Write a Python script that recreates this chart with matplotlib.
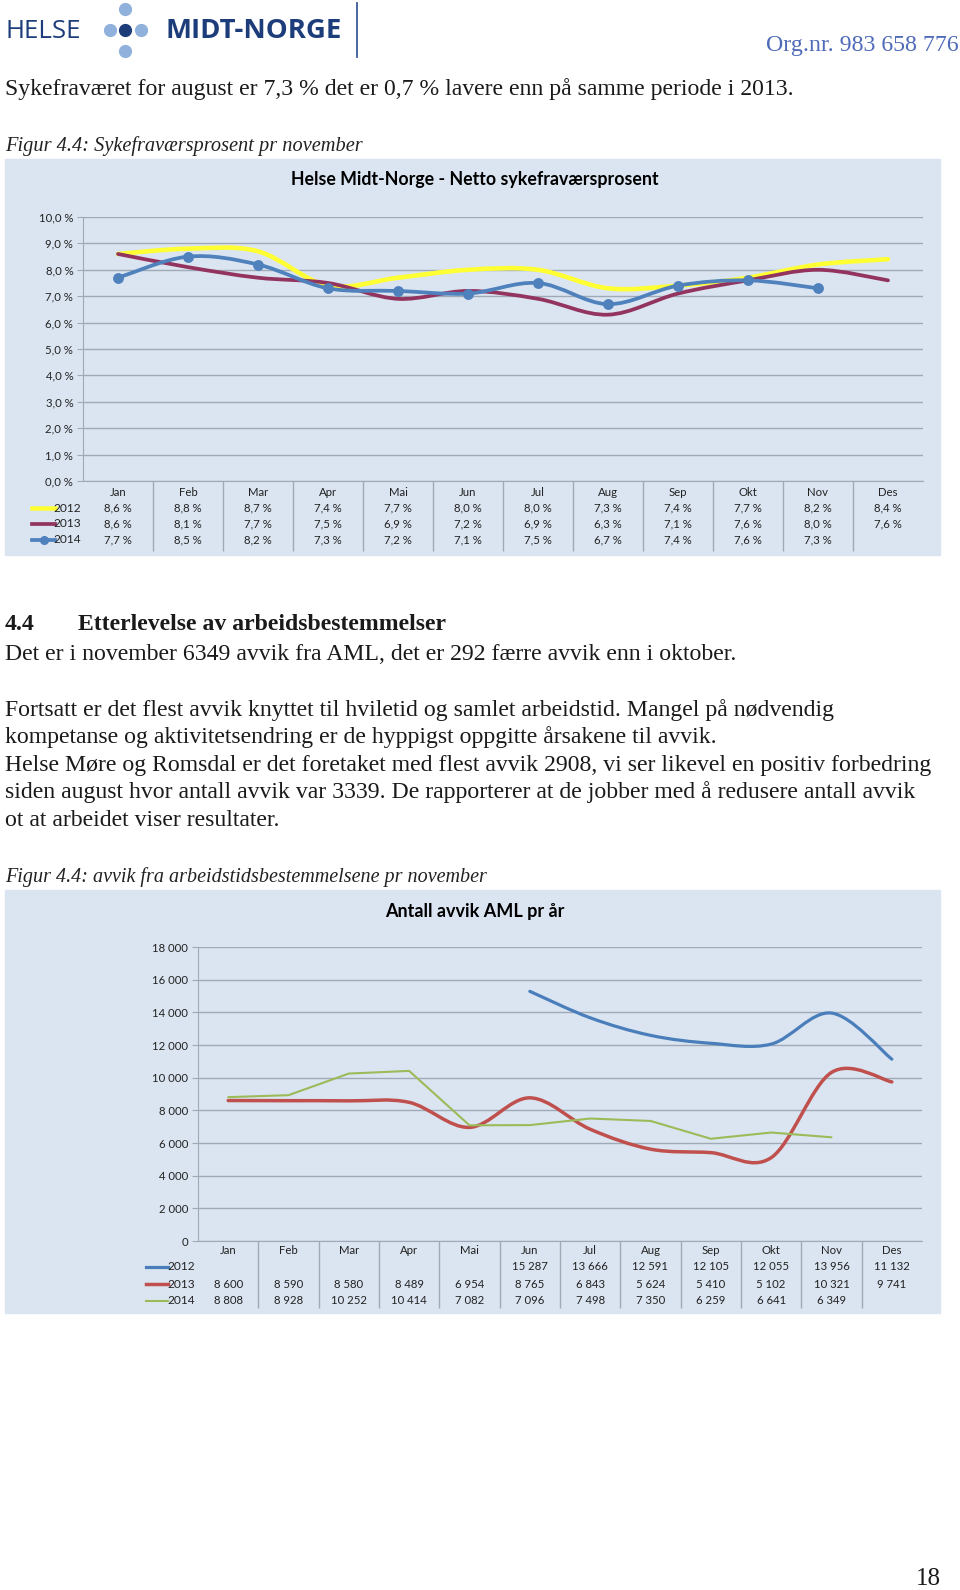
import numpy as np
import matplotlib
matplotlib.use("Agg")
import matplotlib.pyplot as plt
from matplotlib.path import Path
from matplotlib.patches import PathPatch, Rectangle
from matplotlib.lines import Line2D
from matplotlib.transforms import blended_transform_factory
from matplotlib.ticker import FuncFormatter, MultipleLocator

# ---- data ----
months = ["Jan", "Feb", "Mar", "Apr", "Mai", "Jun", "Jul", "Aug", "Sep", "Okt", "Nov", "Des"]
years = ["2012", "2013", "2014"]

syk_2012 = [8.6, 8.8, 8.7, 7.4, 7.7, 8.0, 8.0, 7.3, 7.4, 7.7, 8.2, 8.4]
syk_2013 = [8.6, 8.1, 7.7, 7.5, 6.9, 7.2, 6.9, 6.3, 7.1, 7.6, 8.0, 7.6]
syk_2014 = [7.7, 8.5, 8.2, 7.3, 7.2, 7.1, 7.5, 6.7, 7.4, 7.6, 7.3]

avvik_2012 = [None, None, None, None, None, 15287, 13666, 12591, 12105, 12055, 13956, 11132]
avvik_2013 = [8600, 8590, 8580, 8489, 6954, 8765, 6843, 5624, 5410, 5102, 10321, 9741]
avvik_2014 = [8808, 8928, 10252, 10414, 7082, 7096, 7498, 7350, 6259, 6641, 6349]

body_lines = [
    "Det er i november 6349 avvik fra AML, det er 292 færre avvik enn i oktober.",
    "",
    "Fortsatt er det flest avvik knyttet til hviletid og samlet arbeidstid. Mangel på nødvendig",
    "kompetanse og aktivitetsendring er de hyppigst oppgitte årsakene til avvik.",
    "Helse Møre og Romsdal er det foretaket med flest avvik 2908, vi ser likevel en positiv forbedring",
    "siden august hvor antall avvik var 3339. De rapporterer at de jobber med å redusere antall avvik",
    "ot at arbeidet viser resultater.",
]

W, H = 960, 1590
fig = plt.figure(figsize=(W / 100, H / 100), dpi=100)
renderer = fig.canvas.get_renderer()
SERIF = ["Liberation Serif", "DejaVu Serif"]
SANS = ["Lato", "DejaVu Sans"]
BG = "#dbe5f1"
GRID = "#a0a9b6"
SMALL = 8.2


def fx(x):
    return x / W


def fy(y):
    return 1 - y / H


def put(x, y, s, width=None, **kw):
    kw.setdefault("va", "center")
    t = fig.text(fx(x), fy(y), s, **kw)
    if width:
        bb = t.get_window_extent(renderer)
        t.set_fontsize(t.get_fontsize() * width / bb.width)
    return t


def smooth_path(xs, ys):
    pts = np.column_stack([xs, ys]).astype(float)
    n = len(pts)
    verts = [pts[0]]
    codes = [Path.MOVETO]
    for i in range(n - 1):
        p0 = pts[max(i - 1, 0)]
        p1 = pts[i]
        p2 = pts[i + 1]
        p3 = pts[min(i + 2, n - 1)]
        verts += [p1 + (p2 - p0) / 6, p2 - (p3 - p1) / 6, p2]
        codes += [Path.CURVE4] * 3
    return Path(verts, codes)


def series_xy(vals):
    xs = [i for i, v in enumerate(vals) if v is not None]
    ys = [v for v in vals if v is not None]
    return np.array(xs), np.array(ys)


def chart(box, plot, title, title_y, title_w, rows_y, table_bottom, key_x, label_x,
          series, ylim, ystep, yfmt, cellfmt):
    x0, y0, x1, y1 = box
    fig.patches.append(Rectangle((fx(x0), fy(y1)), (x1 - x0) / W, (y1 - y0) / H,
                                 transform=fig.transFigure, color=BG, zorder=-5))
    put((x0 + x1) / 2 + 2, title_y, title, width=title_w, ha="center",
        family=SANS, fontweight="bold", fontsize=12)
    px0, py0, px1, py1 = plot
    ax = fig.add_axes([fx(px0), fy(py1), (px1 - px0) / W, (py1 - py0) / H])
    ax.set_facecolor("none")
    ax.set_xlim(-0.5, 11.5)
    ax.set_ylim(*ylim)
    ax.yaxis.set_major_locator(MultipleLocator(ystep))
    ax.yaxis.set_major_formatter(FuncFormatter(yfmt))
    ax.grid(axis="y", color=GRID, lw=1)
    ax.set_axisbelow(True)
    ax.set_xticks([])
    for s in ["top", "right"]:
        ax.spines[s].set_visible(False)
    for s in ["left", "bottom"]:
        ax.spines[s].set_color(GRID)
    ax.tick_params(axis="y", length=4, color=GRID, pad=3, labelsize=SMALL, labelcolor="#222222")
    for lab in ax.get_yticklabels():
        lab.set_family(SANS)

    for vals, color, lw, smooth, marker in series:
        xs, ys = series_xy(vals)
        if smooth:
            ax.add_patch(PathPatch(smooth_path(xs, ys), fill=False, edgecolor=color, lw=lw,
                                   capstyle="round", joinstyle="round"))
        else:
            ax.plot(xs, ys, color=color, lw=lw, solid_capstyle="round")
        if marker:
            ax.plot(xs, ys, "o", color=color, ms=6.8)

    # data table under the axis
    tr = blended_transform_factory(ax.transData, fig.transFigure)
    ax.vlines(np.arange(0.5, 11.5, 1), fy(table_bottom), fy(py1), transform=tr,
              color=GRID, lw=1, clip_on=False)
    for i, m in enumerate(months):
        ax.text(i, fy(rows_y[0]), m, transform=tr, ha="center", va="center",
                fontsize=SMALL, family=SANS, color="#222222")
    for (vals, color, lw, smooth, marker), yr, ry in zip(series, years, rows_y[1:]):
        fig.add_artist(Line2D([fx(key_x[0]), fx(key_x[1])], [fy(ry), fy(ry)], color=color,
                              lw=lw, transform=fig.transFigure))
        if marker:
            fig.add_artist(Line2D([fx(sum(key_x) / 2)], [fy(ry)], marker="o", ms=5.5,
                                  color=color, transform=fig.transFigure))
        put(label_x, ry, yr, ha="right", fontsize=SMALL + 0.4, family=SANS, color="#222222")
        for i, v in enumerate(vals):
            if v is not None:
                ax.text(i, fy(ry), cellfmt(v), transform=tr, ha="center", va="center",
                        fontsize=SMALL, family=SANS, color="#222222")
    return ax


# ---- page header ----
put(5, 31, "HELSE", width=76, family=["Open Sans", "DejaVu Sans"], color="#1d3d7a", fontsize=18)
for dx, dy, c in [(110, 30, "#8fb1dc"), (125, 30, "#1d3d7a"), (141, 30, "#8fb1dc"),
                  (125, 9, "#8fb1dc"), (125, 51, "#8fb1dc")]:
    fig.add_artist(Line2D([fx(dx)], [fy(dy)], marker="o", ms=8.5, color=c, lw=0,
                          transform=fig.transFigure))
put(165, 31, "MIDT-NORGE", width=176, family=["Open Sans", "DejaVu Sans"],
    fontweight="bold", color="#1d3d7a", fontsize=18)
fig.add_artist(Line2D([fx(357), fx(357)], [fy(3), fy(57)], color="#3a5a9a", lw=1.3,
                      transform=fig.transFigure))
put(959, 45, "Org.nr. 983 658 776", width=193, ha="right", family=SERIF,
    color="#4e6ab8", fontsize=16)

# ---- body text ----
first = put(5, 89, "Sykefraværet for august er 7,3 % det er 0,7 % lavere enn på samme periode i 2013.",
            width=789, family=SERIF, color="#1a1a1a", fontsize=16)
fs = first.get_fontsize()
put(5, 146, "Figur 4.4: Sykefraværsprosent pr november", width=358, family=SERIF,
    style="italic", color="#222222", fontsize=fs)

put(5, 625, "4.4", family=SERIF, fontweight="bold", fontsize=fs, color="#1a1a1a")
put(78, 625, "Etterlevelse av arbeidsbestemmelser", family=SERIF, fontweight="bold",
    fontsize=fs, color="#1a1a1a")
for k, line in enumerate(body_lines):
    if line:
        put(5, 655 + k * 27.5, line, family=SERIF, fontsize=fs, color="#1a1a1a")

put(5, 877, "Figur 4.4: avvik fra arbeidstidsbestemmelsene pr november", width=482,
    family=SERIF, style="italic", color="#222222", fontsize=fs)
put(941, 1579, "18", ha="right", width=25, family=SERIF, color="#1a1a1a", fontsize=fs)

# ---- chart 1: sykefravær ----
chart(box=(5, 159, 940, 555), plot=(83, 217, 923, 481),
      title="Helse Midt-Norge - Netto sykefraværsprosent", title_y=180, title_w=365,
      rows_y=[493, 508, 524, 540], table_bottom=551, key_x=(32, 55), label_x=81,
      series=[(syk_2012, "#ffff33", 3.3, True, False),
              (syk_2013, "#93345f", 2.7, True, False),
              (syk_2014, "#4f81bd", 2.7, True, True)],
      ylim=(0, 10), ystep=1,
      yfmt=lambda v, p: f"{v:.1f}".replace(".", ",") + " %",
      cellfmt=lambda v: f"{v:.1f}".replace(".", ",") + " %")

# ---- chart 2: avvik AML ----
chart(box=(5, 890, 940, 1313), plot=(198, 947, 922, 1241),
      title="Antall avvik AML pr år", title_y=911, title_w=178,
      rows_y=[1251, 1267, 1284, 1301], table_bottom=1308, key_x=(146, 168), label_x=195,
      series=[(avvik_2012, "#4a7ebb", 2.3, True, False),
              (avvik_2013, "#c0504d", 2.5, True, False),
              (avvik_2014, "#9bbb59", 1.5, False, False)],
      ylim=(0, 18000), ystep=2000,
      yfmt=lambda v, p: f"{int(v):,}".replace(",", " "),
      cellfmt=lambda v: f"{int(v):,}".replace(",", " "))

fig.savefig("out.png", dpi=100, facecolor="white")
